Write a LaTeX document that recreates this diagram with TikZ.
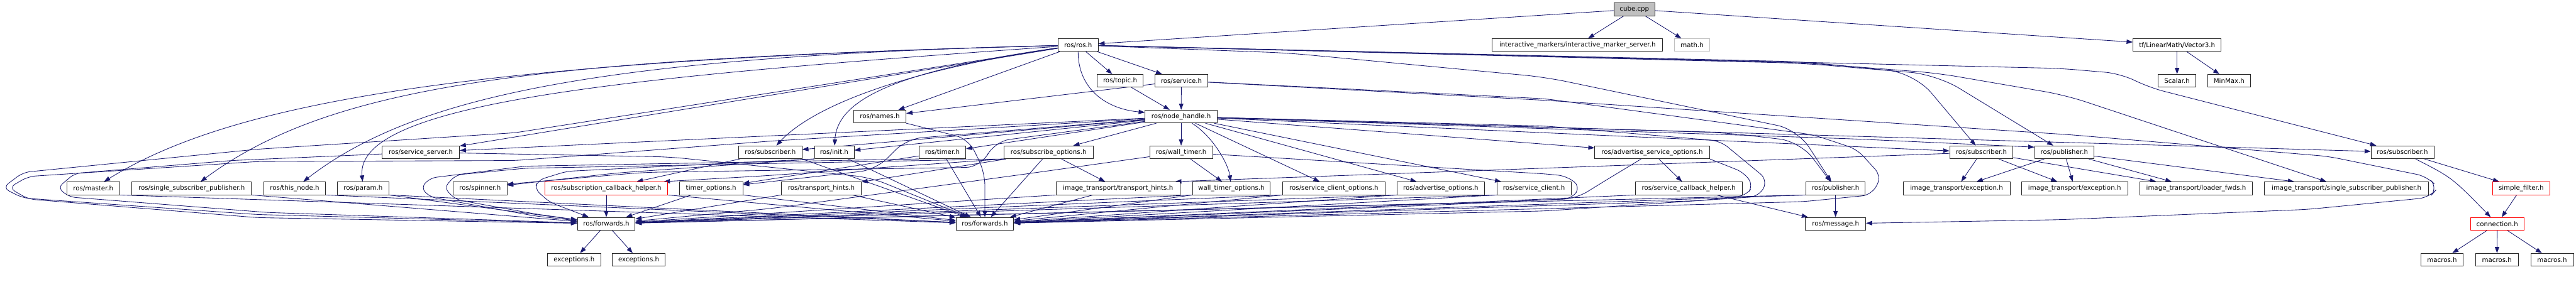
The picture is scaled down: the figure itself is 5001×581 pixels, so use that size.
\documentclass[tikz,border=0pt]{standalone}
\usepackage{fontspec}
\setmainfont{DejaVu Sans}
\usepackage{tikz}
\usetikzlibrary{arrows.meta,backgrounds}
\definecolor{edgeblue}{HTML}{191970}
\definecolor{rootgrey}{HTML}{BFBFBF}
\newcommand{\filefont}{\fontsize{12.5pt}{15pt}\selectfont}
\tikzset{
  hfile/.style={rectangle,draw=black!85,line width=1pt,fill=white,
    inner sep=0pt,minimum height=25pt,minimum width=#1pt,font=\filefont},
  hedge/.style={draw=edgeblue,line width=1.05pt,
    -{Triangle[length=12pt,width=8.5pt]}}
}

\begin{document}
\begin{tikzpicture}[x=1pt,y=1pt]
  \useasboundingbox (0,0) rectangle (5001,-581);

  % --------------------------------------------------------------
  % Rows 0 to 3: the source file and the first headers.
  % --------------------------------------------------------------
  \node[hfile=80,fill=rootgrey] (cube) at (3173,-18) {cube.cpp};

  \node[hfile=78]  (ros)  at (2093,-87.5)   {ros/ros.h};
  \node[hfile=331] (ims)  at (3062.5,-87.5)
    {interactive\_markers/interactive\_marker\_server.h};
  \node[hfile=68,draw=rootgrey] (math) at (3285,-87.5) {math.h};
  \node[hfile=171] (vec)  at (4226.5,-87.5) {tf/LinearMath/Vector3.h};

  \node[hfile=89]  (topic)   at (2174.5,-157) {ros/topic.h};
  \node[hfile=103] (service) at (2293.5,-157) {ros/service.h};
  \node[hfile=73]  (scalar)  at (4226.5,-157) {Scalar.h};
  \node[hfile=83]  (minmax)  at (4327.5,-157) {MinMax.h};

  \node[hfile=102] (names) at (1708,-226.5) {ros/names.h};
  \node[hfile=140] (nh)    at (2293,-226.5) {ros/node\_handle.h};

  % --------------------------------------------------------------
  % Row 4.
  % --------------------------------------------------------------
  \node[hfile=150] (srvserver)  at (817,-296)    {ros/service\_server.h};
  \node[hfile=123] (sub1)       at (1495.5,-296) {ros/subscriber.h};
  \node[hfile=77]  (init)       at (1619.5,-296) {ros/init.h};
  \node[hfile=91]  (timer)      at (1829.5,-296) {ros/timer.h};
  \node[hfile=173] (subopts)    at (2035.5,-296) {ros/subscribe\_options.h};
  \node[hfile=122] (walltimer)  at (2293,-296)   {ros/wall\_timer.h};
  \node[hfile=223] (advsrvopts) at (3207.5,-296) {ros/advertise\_service\_options.h};
  \node[hfile=123] (sub2)       at (3846.5,-296) {ros/subscriber.h};
  \node[hfile=115] (pub2)       at (4007.5,-296) {ros/publisher.h};
  \node[hfile=122] (sub3)       at (4664,-296)   {ros/subscriber.h};

  % --------------------------------------------------------------
  % Row 5.
  % --------------------------------------------------------------
  \node[hfile=102] (master)    at (181,-366)    {ros/master.h};
  \node[hfile=232] (ssp)       at (372,-366)    {ros/single\_subscriber\_publisher.h};
  \node[hfile=120] (thisnode)  at (572,-366)    {ros/this\_node.h};
  \node[hfile=100] (param)     at (705,-366)    {ros/param.h};
  \node[hfile=104] (spinner)   at (932,-366)    {ros/spinner.h};
  \node[hfile=238,draw=red] (sch) at (1177,-366)
    {ros/subscription\_callback\_helper.h};
  \node[hfile=123] (timeropts) at (1380.5,-366) {timer\_options.h};
  \node[hfile=155] (rth)       at (1594.5,-366) {ros/transport\_hints.h};
  \node[hfile=241] (ith)       at (2170.5,-366) {image\_transport/transport\_hints.h};
  \node[hfile=151] (wto)       at (2390.5,-366) {wall\_timer\_options.h};
  \node[hfile=199] (sco)       at (2589.5,-366) {ros/service\_client\_options.h};
  \node[hfile=170] (advopts)   at (2797,-366)   {ros/advertise\_options.h};
  \node[hfile=144] (sclient)   at (2978,-366)   {ros/service\_client.h};
  \node[hfile=207] (schelp)    at (3278.5,-366) {ros/service\_callback\_helper.h};
  \node[hfile=115] (pub1)      at (3563.5,-366) {ros/publisher.h};
  \node[hfile=207] (ite1)      at (3798.5,-366) {image\_transport/exception.h};
  \node[hfile=207] (ite2)      at (4027.5,-366) {image\_transport/exception.h};
  \node[hfile=219] (ilf)       at (4263.5,-366) {image\_transport/loader\_fwds.h};
  \node[hfile=319] (issp)      at (4555.5,-366)
    {image\_transport/single\_subscriber\_publisher.h};
  \node[hfile=111,draw=red] (sf) at (4894.5,-366) {simple\_filter.h};

  % --------------------------------------------------------------
  % Rows 6 and 7.
  % --------------------------------------------------------------
  \node[hfile=112] (fwd1) at (1177,-435)   {ros/forwards.h};
  \node[hfile=112] (fwd2) at (1912,-435)   {ros/forwards.h};
  \node[hfile=117] (msg)  at (3563.5,-435) {ros/message.h};
  \node[hfile=104,draw=red] (conn) at (4848,-435) {connection.h};

  \node[hfile=103] (exc1) at (1114.5,-505) {exceptions.h};
  \node[hfile=102] (exc2) at (1240,-505)   {exceptions.h};
  \node[hfile=82]  (mac1) at (4741,-505)   {macros.h};
  \node[hfile=83]  (mac2) at (4847.5,-505) {macros.h};
  \node[hfile=83]  (mac3) at (4954.5,-505) {macros.h};

\begin{pgfonlayer}{background}
  \fill[white] (0,0) rectangle (5001,-581);

  % --------------------------------------------------------------
  % cube.cpp and the top rows.
  % --------------------------------------------------------------
  \draw[hedge] (cube) -- (ros);
  \draw[hedge] (cube) -- (ims);
  \draw[hedge] (cube) -- (math);
  \draw[hedge] (cube) -- (vec);
  \draw[hedge] (vec) -- (scalar);
  \draw[hedge] (vec) -- (minmax);

  \draw[hedge] (ros) -- (topic);
  \draw[hedge] (ros) -- (service);
  \draw[hedge] (ros.south) .. controls (2093,-175) and (2150,-212) .. ([yshift=8pt]nh.west);
  \draw[hedge] (ros) -- (names);
  \draw[hedge] (ros) .. controls (1720,-140) and (1625,-200) .. (init);
  \draw[hedge] (ros) .. controls (1700,-145) and (1560,-225) .. (sub1);
  \draw[hedge] (ros) -- (srvserver);
  \draw[hedge] (ros) .. controls (1200,-150) and (690,-200) .. (param);
  \draw[hedge] (ros) .. controls (1150,-110) and (800,-190) .. (thisnode);
  \draw[hedge] (ros) .. controls (1050,-115) and (650,-160) .. (ssp);
  \draw[hedge] (ros) .. controls (900,-118) and (450,-200) .. (master);
  \draw[hedge,rounded corners=40pt] (ros) -- (2500,-103) -- (3000,-150) -- (3490,-252) -- (pub1);
  \draw[hedge,rounded corners=50pt] (ros) -- (3500,-120) -- (3717,-142) -- (sub2);
  \draw[hedge,rounded corners=50pt] (ros) -- (3500,-123) -- (3760,-145) -- (pub2);
  \draw[hedge,rounded corners=40pt] (ros) -- (3500,-122) -- (3760,-142) -- (4010,-185) -- (issp);
  \draw[hedge,rounded corners=30pt] (ros) -- (4000,-133) -- (4117,-143) -- (4172,-170) -- (sub3);
  \draw[hedge,rounded corners=14pt] (ros) -- (1000,-258) -- (500,-290) -- (45,-335)
    -- (5,-365) -- (45,-385) -- (500,-417) -- (fwd1);

  \draw[hedge] (topic) -- (nh);
  \draw[hedge] (service) -- (nh);
  \draw[hedge] (service) -- (names);
  \draw[hedge,rounded corners=25pt] (names) -- (1880,-270) -- (1912,-335) -- (fwd2);
  \draw[hedge,rounded corners=20pt] (service) -- (3000,-195) -- (4020,-262) -- (4520,-304)
    -- (4712,-343) -- (4733,-365) -- (4716,-384) -- (4480,-407) -- (4000,-427) -- (msg);
  \draw[hedge,rounded corners=18pt] (service) -- (3000,-192) -- (3520,-262) -- (3605,-290)
    -- (3653,-343) -- (3633,-379) -- (3500,-392) -- (fwd2);

  % --------------------------------------------------------------
  % ros/node_handle.h
  % --------------------------------------------------------------
  \draw[hedge] (nh) -- (srvserver);
  \draw[hedge] (nh) -- (sub1);
  \draw[hedge] (nh) -- (init);
  \draw[hedge] (nh) -- (timer);
  \draw[hedge] (nh) -- (subopts);
  \draw[hedge] (nh) -- (walltimer);
  \draw[hedge] (nh) .. controls (2355,-265) and (2385,-320) .. (wto);
  \draw[hedge] (nh) -- (sco);
  \draw[hedge] (nh) -- (advopts);
  \draw[hedge] (nh) -- (sclient);
  \draw[hedge] (nh) -- (advsrvopts);
  \draw[hedge,rounded corners=40pt] (nh) -- (3350,-258) -- (3495,-275) -- (pub1);
  \draw[hedge] (nh) -- (sub2);
  \draw[hedge,rounded corners=30pt] (nh) -- (3600,-270) -- ([yshift=10pt]pub2.west);
  \draw[hedge] (nh) -- (sub3);
  \draw[hedge,rounded corners=30pt] (nh) -- (1930,-275) -- (1905,-325) -- (1250,-335)
    -- ([yshift=8pt]spinner.east);
  \draw[hedge,rounded corners=30pt] (nh) -- (1760,-270) -- (1700,-330) -- (timeropts);
  \draw[hedge,rounded corners=14pt] (nh) -- (1500,-274) -- (1000,-312) -- (500,-314)
    -- (55,-343) -- (17,-365) -- (55,-387) -- (500,-423) -- (fwd1);
  \draw[hedge,rounded corners=18pt] (nh) -- (3000,-245) -- (3340,-274) -- (3432,-350)
    -- (3415,-382) -- (3000,-410) -- (fwd2);

  % --------------------------------------------------------------
  % Row 4 headers.
  % --------------------------------------------------------------
  \draw[hedge,rounded corners=12pt] (srvserver) -- (450,-312) -- (145,-337) -- (112,-365)
    -- (135,-383) -- (520,-413) -- (fwd1);
  \draw[hedge,rounded corners=30pt] (srvserver) -- (1300,-305) -- (1690,-345) -- (fwd2);

  \draw[hedge] (sub1) -- (sch);
  \draw[hedge] (sub1.south east) -- (fwd2);

  \draw[hedge,rounded corners=25pt] (init.south west) -- (1200,-336) -- ([yshift=6pt]spinner.east);
  \draw[hedge] (init) -- (fwd2);
  \draw[hedge,rounded corners=12pt] (init.south west) -- (1100,-333) -- (1045,-350)
    -- (1038,-367) -- (1067,-393) -- (fwd1);

  \draw[hedge] (timer) -- (fwd2);
  \draw[hedge] (timer) -- (timeropts);
  \draw[hedge,rounded corners=12pt] (timer.south west) -- (1020,-323) -- (835,-346)
    -- (817,-365) -- (835,-383) -- (1040,-420) -- (fwd1);

  \draw[hedge] (subopts) -- (rth);
  \draw[hedge] (subopts) -- (ith);
  \draw[hedge] (subopts) -- (fwd2);
  \draw[hedge,rounded corners=25pt] (subopts.south west) -- (1480,-342) -- ([xshift=-8pt]sch.north east);
  \draw[hedge,rounded corners=12pt] (subopts.south west) -- (1020,-327) -- (885,-340)
    -- (862,-365) -- (885,-388) -- (1040,-416) -- (fwd1);

  \draw[hedge] (walltimer) -- (wto);
  \draw[hedge,rounded corners=30pt] (walltimer) -- (2000,-337) -- (1500,-405) -- (fwd1);
  \draw[hedge,rounded corners=15pt] (walltimer) -- (3000,-338) -- (3040,-342) -- (3068,-362)
    -- (3052,-386) -- (2800,-398) -- (fwd2);

  \draw[hedge] (advsrvopts) -- (schelp);
  \draw[hedge,rounded corners=25pt] (advsrvopts) -- (3110,-355) -- (3060,-386) -- (2900,-393) -- (fwd1);
  \draw[hedge,rounded corners=15pt] (advsrvopts.south east) -- (3385,-335) -- (3404,-360)
    -- (3390,-380) -- (3300,-390) -- (fwd2);

  \draw[hedge] (sub2) -- (ite1);
  \draw[hedge] (sub2) -- (ite2);
  \draw[hedge] (sub2) -- (ilf);
  \draw[hedge] (sub2) -- ([xshift=-10pt]ith.north east);

  \draw[hedge] (pub2) -- (ite1);
  \draw[hedge] (pub2) -- (ite2);
  \draw[hedge] (pub2) -- (ilf);
  \draw[hedge] (pub2) -- (issp);

  \draw[hedge] (sub3) -- (sf);
  \draw[hedge] (sub3) .. controls (4760,-345) .. (conn);
  \draw[hedge] (sf) -- (conn);
  \draw[hedge] (conn) -- (mac1);
  \draw[hedge] (conn) -- (mac2);
  \draw[hedge] (conn) -- (mac3);

  % --------------------------------------------------------------
  % Row 5 headers into the forwards and message headers.
  % --------------------------------------------------------------
  \draw[hedge] (master.south east) -- (fwd2);
  \draw[hedge] (ssp.south east) -- (fwd1);
  \draw[hedge] (thisnode.south east) -- (fwd2);
  \draw[hedge] (param.south east) -- (fwd1);
  \draw[hedge] (param.south east) -- (fwd2);
  \draw[hedge] (sch) -- (fwd1);
  \draw[hedge] (sch.south east) -- (fwd2);
  \draw[hedge] (timeropts) -- (fwd1);
  \draw[hedge] (timeropts.south east) -- (fwd2);
  \draw[hedge] (rth.south west) -- (fwd1);
  \draw[hedge] (rth) -- (fwd2);
  \draw[hedge] (ith.south west) -- (fwd1);
  \draw[hedge] (ith) -- (fwd2);
  \foreach \h in {wto,sco,advopts,sclient}
    {\draw[hedge] (\h.south west) -- (fwd1);
     \draw[hedge] (\h.south west) -- (fwd2);}
  \draw[hedge] (schelp.south west) -- (fwd2);
  \draw[hedge] (schelp) -- (msg);
  \draw[hedge] (pub1) -- (msg);
  \draw[hedge] (pub1.south west) -- (fwd1);
  \draw[hedge] (pub1.south west) -- (fwd2);

  \draw[hedge] (fwd1) -- (exc1);
  \draw[hedge] (fwd1) -- (exc2);
\end{pgfonlayer}

\end{tikzpicture}
\end{document}
